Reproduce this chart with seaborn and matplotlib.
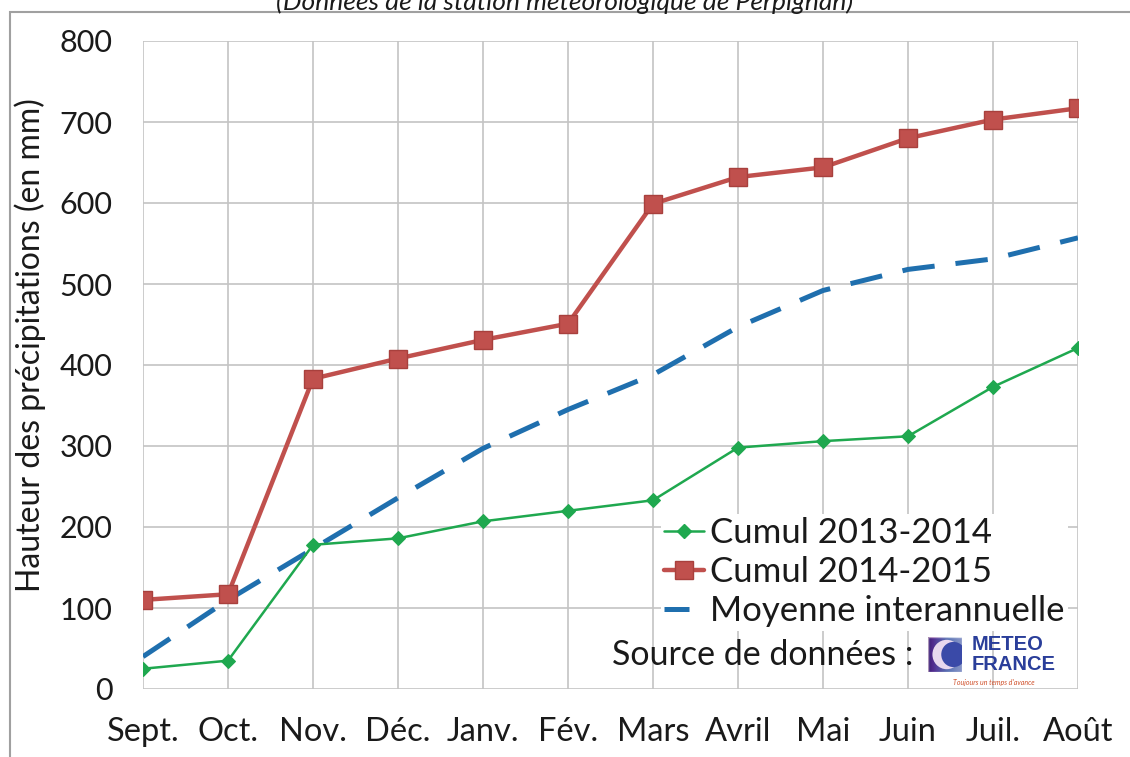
import pandas as pd
import matplotlib.pyplot as plt
import seaborn as sns
import numpy as np
from matplotlib.lines import Line2D
from matplotlib.patches import Rectangle, Circle

# Month labels (hydrological year, Sept -> Août)
months = ["Sept.", "Oct.", "Nov.", "Déc.", "Janv.", "Fév.",
          "Mars", "Avril", "Mai", "Juin", "Juil.", "Août"]

# Cumulated rainfall (mm)
cumul_2013_2014 = [25, 35, 178, 186, 207, 220, 233, 298, 306, 312, 373, 421]
cumul_2014_2015 = [110, 117, 383, 408, 431, 451, 599, 632, 644, 680, 703, 717]
moyenne = [40, 110, 173, 236, 297, 345, 388, 447, 492, 518, 531, 557]

df = pd.DataFrame({
    "Mois": months,
    "Cumul 2013-2014": cumul_2013_2014,
    "Cumul 2014-2015": cumul_2014_2015,
    "Moyenne interannuelle": moyenne,
})

sns.set_style("whitegrid")
plt.rcParams["font.family"] = ["Lato", "DejaVu Sans"]

W, H = 1130, 757
fig = plt.figure(figsize=(11.3, 7.57), dpi=100)
ax = fig.add_axes([143 / W, 1 - 689 / H, (1078 - 143) / W, (689 - 41) / H])

green = "#1fa84f"
red = "#c0504d"
blue = "#1f6fae"
txt = "#1a1a1a"

sns.lineplot(data=df, x="Mois", y="Moyenne interannuelle", ax=ax, sort=False,
             color=blue, linewidth=3.6, zorder=2)
ax.lines[-1].set_dashes((6.5, 4.2))
sns.lineplot(data=df, x="Mois", y="Cumul 2013-2014", ax=ax, sort=False,
             color=green, linewidth=1.8, marker="D", markersize=7,
             markeredgecolor=green, zorder=3)
sns.lineplot(data=df, x="Mois", y="Cumul 2014-2015", ax=ax, sort=False,
             color=red, linewidth=3.2, marker="s", markersize=13,
             markeredgecolor="#a8403d", markeredgewidth=1, zorder=4)

ax.set_xlim(0, 11)
ax.set_ylim(0, 800)
ax.set_yticks(range(0, 801, 100))
ax.set_xlabel("")
ax.set_ylabel("")
ax.grid(True, color="#c4c4c4", linewidth=1.2)
for s in ax.spines.values():
    s.set_visible(False)
ax.tick_params(axis="both", which="both", direction="out", length=8,
               color="#c4c4c4", width=1.2, labelcolor=txt)
ax.tick_params(axis="y", pad=14, labelsize=22)
ax.tick_params(axis="x", pad=12, labelsize=23.5)
ax.set_axisbelow(True)

fig.text(30 / W, 1 - 345 / H, "Hauteur des précipitations (en mm)",
         rotation=90, ha="center", va="center", fontsize=23, color=txt)

# Title cut at the top of the picture
fig.text(565 / W, 1 - 2 / H,
         "(Données de la station météorologique de Perpignan)",
         ha="center", va="center", fontsize=19, style="italic", color=txt)

# Outer frame
fig.patches.append(Rectangle((10 / W, -0.02), 1.1, 1 - 12 / H + 0.02,
                             transform=fig.transFigure, fill=False,
                             edgecolor="#a0a0a0", linewidth=1.5))

handles = [
    Line2D([], [], color=green, lw=1.8, marker="D", markersize=7),
    Line2D([], [], color=red, lw=3.2, marker="s", markersize=13,
           markeredgecolor="#a8403d"),
    Line2D([], [], color=blue, lw=3.6, dashes=(5, 10)),
]
leg = ax.legend(handles, ["Cumul 2013-2014", "Cumul 2014-2015", "Moyenne interannuelle"],
                loc="upper left", bbox_to_anchor=(518 / 935, 1 - (514 - 41) / 648),
                frameon=True, fontsize=25, handlelength=1.15, handletextpad=0.15,
                labelspacing=0.2, borderpad=0.1, borderaxespad=0)
leg.get_frame().set_edgecolor("none")
leg.get_frame().set_facecolor("white")
leg.get_frame().set_alpha(1)
for t in leg.get_texts():
    t.set_color(txt)

fig.text(612 / W, 1 - 655 / H, "Source de données :", ha="left", va="center",
         fontsize=24.5, color=txt)

# Meteo France logo, simple rendition
logo_ax = fig.add_axes([928 / W, 1 - 672 / H, 34 / W, 35 / H])
grad = np.linspace(0, 1, 64)[None, :] * np.ones((64, 1))
logo_ax.imshow(grad, cmap="BuPu_r", extent=(0, 1, 0, 1), aspect="auto")
logo_ax.set_xlim(0, 1)
logo_ax.set_ylim(0, 1)
logo_ax.axis("off")
logo_ax.add_patch(Rectangle((0, 0), 1, 1, facecolor="#2a3e9a", alpha=0.55))
logo_ax.add_patch(Circle((0.55, 0.5), 0.42, facecolor="#e8d8ee", edgecolor="none"))
logo_ax.add_patch(Circle((0.75, 0.5), 0.36, facecolor="#3a4aa8", edgecolor="none"))
fig.text(972 / W, 1 - 645 / H, "METEO", ha="left", va="center",
         fontsize=14.5, fontweight="bold", color="#2a3e9a", family="Liberation Sans")
fig.text(972 / W, 1 - 664 / H, "FRANCE", ha="left", va="center",
         fontsize=14.5, fontweight="bold", color="#2a3e9a", family="Liberation Sans")
fig.text(994 / W, 1 - 682 / H, "Toujours un temps d'avance", ha="center",
         va="center", fontsize=5, style="italic", color="#d0502a")

fig.savefig("out.png", dpi=100)
